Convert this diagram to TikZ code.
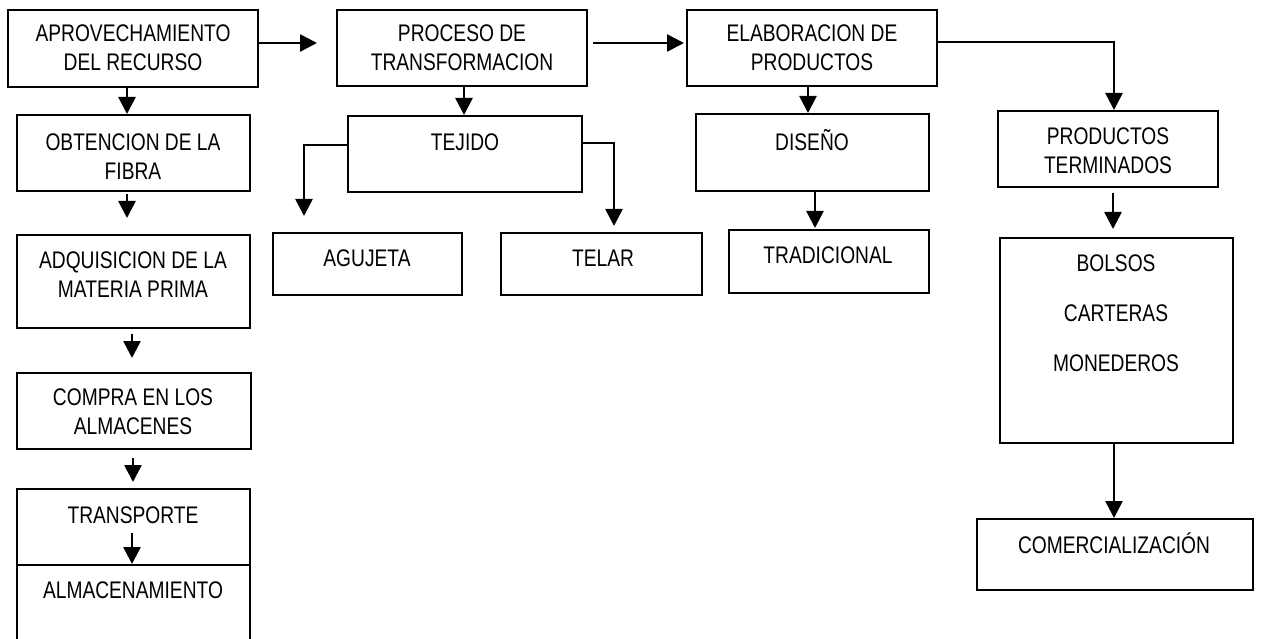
\documentclass[tikz,border=0pt]{standalone}
\usepackage{fontspec}
\setmainfont{Liberation Sans}[FakeStretch=0.8]
\usetikzlibrary{arrows.meta,fit}
\begin{document}
\begin{tikzpicture}[x=1pt,y=-1pt,
  box/.style={draw,line width=2pt,inner sep=0pt},
  txt/.style={align=center,inner sep=0pt,font=\fontsize{24}{29}\selectfont},
  arr/.style={line width=2.6pt,-{Triangle[length=17pt,width=17pt]}}]
\useasboundingbox (0,0) rectangle (1261,639);
% boxes
\node[box,fit={(8,10) (258,87)}] (a1) {};
\node[box,fit={(337,10) (587,86)}] (a2) {};
\node[box,fit={(687,10) (937,86)}] (a3) {};
\node[box,fit={(17,115) (250,191)}] (b1) {};
\node[box,fit={(17,235) (250,328)}] (b2) {};
\node[box,fit={(17,373) (251,449)}] (b3) {};
\node[box,fit={(17,489) (250,565)}] (b4) {};
\node[box,fit={(17,565) (250,660)}] (b5) {};
\node[box,fit={(348,116) (582,192)}] (c1) {};
\node[box,fit={(273,233) (462,295)}] (c2) {};
\node[box,fit={(501,233) (702,295)}] (c3) {};
\node[box,fit={(696,114) (929,191)}] (d1) {};
\node[box,fit={(729,230) (929,293)}] (d2) {};
\node[box,fit={(998,111) (1218,187)}] (e1) {};
\node[box,fit={(1000,238) (1233,443)}] (e2) {};
\node[box,fit={(977,519) (1253,590)}] (e3) {};
% texts
\node[txt] (t1) at (133,48) {APROVECHAMIENTO\\DEL RECURSO};
\node[txt] (t2) at (462,48) {PROCESO DE\\TRANSFORMACION};
\node[txt] (t3) at (812,48) {ELABORACION DE\\PRODUCTOS};
\node[txt] (t4) at (133,157) {OBTENCION DE LA\\FIBRA};
\node[txt] (t5) at (133,275) {ADQUISICION DE LA\\MATERIA PRIMA};
\node[txt] (t6) at (133,412) {COMPRA EN LOS\\ALMACENES};
\node[txt] (t7) at (133,515) {TRANSPORTE};
\node[txt] (t8) at (133,590) {ALMACENAMIENTO};
\node[txt] (t9) at (465,142) {TEJIDO};
\node[txt] (t10) at (367,258) {AGUJETA};
\node[txt] (t11) at (603,258) {TELAR};
\node[txt] (t12) at (812,140) {DISEÑO};
\node[txt] (t13) at (828,255) {TRADICIONAL};
\node[txt] (t14) at (1108,151) {PRODUCTOS\\TERMINADOS};
\node[txt,font=\fontsize{24}{50}\selectfont] (t15) at (1116,313) {BOLSOS\\CARTERAS\\MONEDEROS};
\node[txt] (t16) at (1114,543) {COMERCIALIZACIÓN};
% connectors
\draw[arr,shorten >=19pt] ([yshift=5.5pt]a1.east) -- ([yshift=5pt]a2.west);
\draw[arr,shorten <=5pt,shorten >=2pt] ([yshift=5pt]a2.east) -- ([yshift=5pt]a3.west);
\draw[arr] ([yshift=6pt]a3.east) -| ([xshift=6pt]e1.north);
\draw[arr] ([xshift=-6pt]a1.south) -- ([xshift=-6pt]a1.south |- b1.north);
\draw[arr,shorten <=2pt,shorten >=16pt] ([xshift=-6.5pt]b1.south) -- ([xshift=-6.5pt]b1.south |- b2.north);
\draw[arr,shorten <=5pt,shorten >=14pt] ([xshift=-1.5pt]b2.south) -- ([xshift=-1.5pt]b2.south |- b3.north);
\draw[arr,shorten <=8pt,shorten >=6pt] ([xshift=-1pt]b3.south) -- ([xshift=-1pt]b3.south |- b4.north);
\coordinate (tr) at (132,533);
\draw[arr] (tr) -- (tr |- b5.north);
\draw[arr] ([xshift=2pt]a2.south) -- ([xshift=2pt]a2.south |- c1.north);
\draw[arr,shorten >=16pt] ([yshift=9pt]c1.west) -| ([xshift=-63.5pt]c2.north);
\draw[arr,shorten >=6pt] ([yshift=11pt]c1.east) -| ([xshift=12.5pt]c3.north);
\draw[arr] ([xshift=-4pt]a3.south) -- ([xshift=-4pt]a3.south |- d1.north);
\draw[arr,shorten >=1pt] ([xshift=2.5pt]d1.south) -- ([xshift=2.5pt]d1.south |- d2.north);
\draw[arr,shorten <=5pt,shorten >=8pt] ([xshift=5pt]e1.south) -- ([xshift=5pt]e1.south |- e2.north);
\draw[arr] ([xshift=-2.5pt]e2.south) -- ([xshift=-2.5pt]e2.south |- e3.north);
\end{tikzpicture}
\end{document}
